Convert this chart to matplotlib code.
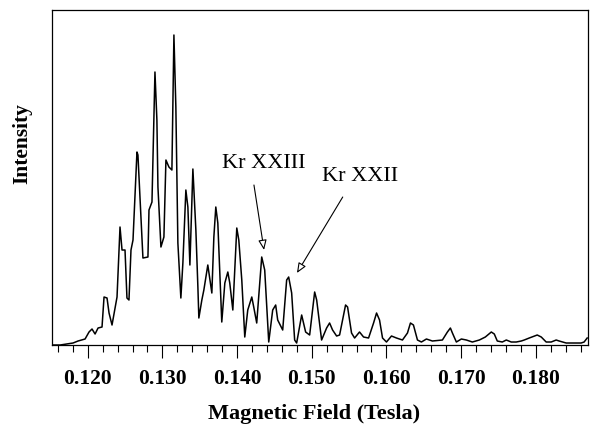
import matplotlib
matplotlib.use("Agg")
from matplotlib import pyplot as plt
from matplotlib.ticker import MultipleLocator, FormatStrFormatter

# magnetic field (T) and intensity (arb. units)
field = [0.11523, 0.11630, 0.11803, 0.11870, 0.11964, 0.12017, 0.12057, 0.12098,
         0.12138, 0.12191, 0.12218, 0.12258, 0.12285, 0.12325, 0.12392, 0.12432,
         0.12459, 0.12499, 0.12525, 0.12552, 0.12579, 0.12606, 0.12659, 0.12672,
         0.12713, 0.12739, 0.12806, 0.12820, 0.12860, 0.12900, 0.12926, 0.12940,
         0.12980, 0.13020, 0.13047, 0.13087, 0.13127, 0.13154, 0.13180, 0.13207,
         0.13247, 0.13274, 0.13314, 0.13341, 0.13368, 0.13408, 0.13448, 0.13475,
         0.13488, 0.13528, 0.13555, 0.13608, 0.13662, 0.13689, 0.13715, 0.13742,
         0.13795, 0.13836, 0.13876, 0.13902, 0.13943, 0.13996, 0.14023, 0.14063,
         0.14103, 0.14143, 0.14197, 0.14223, 0.14263, 0.14330, 0.14370, 0.14424,
         0.14477, 0.14517, 0.14544, 0.14611, 0.14664, 0.14691, 0.14731, 0.14771,
         0.14798, 0.14865, 0.14918, 0.14972, 0.15039, 0.15066, 0.15132, 0.15199,
         0.15239, 0.15279, 0.15333, 0.15373, 0.15413, 0.15453, 0.15480, 0.15533,
         0.15574, 0.15640, 0.15694, 0.15761, 0.15828, 0.15868, 0.15908, 0.15948,
         0.16001, 0.16068, 0.16135, 0.16215, 0.16282, 0.16322, 0.16362, 0.16416,
         0.16469, 0.16536, 0.16616, 0.16750, 0.16817, 0.16857, 0.16884, 0.16937,
         0.17004, 0.17071, 0.17151, 0.17245, 0.17325, 0.17405, 0.17445, 0.17485,
         0.17552, 0.17606, 0.17672, 0.17739, 0.17806, 0.17846, 0.17913, 0.18020,
         0.18074, 0.18140, 0.18207, 0.18274, 0.18314, 0.18408, 0.18488, 0.18608,
         0.18648, 0.18689]
intensity = [0, 0, 2, 4, 6, 13, 16, 11,
             17, 18, 48, 47, 32, 20, 48, 118,
             95, 95, 47, 45, 95, 105, 193, 190,
             128, 87, 88, 135, 143, 273, 225, 158,
             98, 108, 185, 178, 175, 310, 238, 102,
             47, 82, 155, 138, 80, 176, 115, 58,
             27, 45, 55, 80, 52, 108, 138, 122,
             23, 62, 73, 62, 35, 117, 105, 65,
             8, 35, 48, 38, 22, 88, 75, 3,
             35, 40, 25, 15, 65, 68, 52, 5,
             2, 30, 13, 10, 53, 45, 5, 17,
             22, 15, 9, 10, 25, 40, 38, 12,
             7, 13, 8, 7, 22, 32, 25, 7,
             3, 9, 7, 5, 12, 22, 20, 5,
             3, 6, 4, 5, 13, 17, 12, 3,
             6, 5, 3, 5, 8, 13, 11, 4,
             3, 5, 3, 3, 4, 5, 7, 10,
             8, 3, 3, 5, 4, 2, 2, 2,
             3, 7]

# labelled lines: (label, arrow tip, arrow tail, text position)
labels = ["Kr XXIII", "Kr XXII"]
tips = [(0.14361, 95), (0.14802, 72)]
tails = [(0.14226, 160), (0.15415, 148)]
text_pos = [(0.14361, 182), (0.15642, 169)]

plt.rcParams['font.family'] = ['Liberation Serif', 'DejaVu Serif']

fig = plt.figure(figsize=(5.9, 4.24), dpi=100)
ax = fig.add_axes([0.088, 0.1863, 0.9086, 0.7901])

ax.plot(field, intensity, color="black", lw=1.1)

for lab, tip, tail, pos in zip(labels, tips, tails, text_pos):
    ax.annotate("", xy=tip, xytext=tail,
                arrowprops=dict(arrowstyle="-|>,head_length=0.6,head_width=0.25",
                                fc="white", ec="black", lw=0.8,
                                shrinkA=0, shrinkB=0))
    ax.text(pos[0], pos[1], lab, ha="center", va="center", fontsize=16)

ax.set_xlim(0.1152, 0.1870)
ax.set_ylim(0, 335)
ax.set_yticks([])
ax.xaxis.set_major_locator(MultipleLocator(0.01))
ax.xaxis.set_minor_locator(MultipleLocator(0.002))
ax.xaxis.set_major_formatter(FormatStrFormatter("%.3f"))
ax.tick_params(axis="x", which="major", direction="out", length=9.5, width=0.8, pad=8)
ax.tick_params(axis="x", which="minor", direction="out", length=5, width=0.8)
for lbl in ax.get_xticklabels():
    lbl.set_fontweight("bold")
    lbl.set_fontsize(15.5)
for s in ax.spines.values():
    s.set_linewidth(0.9)

ax.set_xlabel("Magnetic Field (Tesla)", fontsize=16, fontweight="bold")
ax.xaxis.set_label_coords(0.489, -0.175)
ax.set_ylabel("Intensity", fontsize=15.5, fontweight="bold")
ax.yaxis.set_label_coords(-0.036, 0.60)

fig.savefig("out.png", dpi=100)
